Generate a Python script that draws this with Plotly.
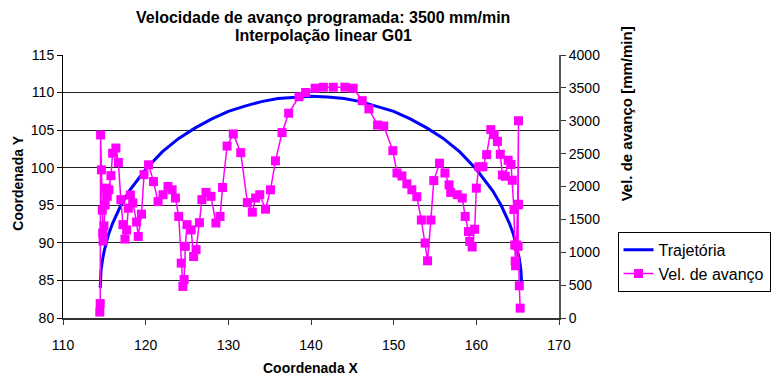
import plotly.graph_objects as go

# Trajectory (Coordenada X, Coordenada Y)
traj_x = [114.5, 114.6, 114.8, 115.0, 115.5, 116.0, 117.0, 118.0, 120.0, 122.0, 124.0,
          126.0, 128.0, 130.0, 132.0, 134.0, 136.0, 138.0, 140.0, 142.0, 144.0, 146.0,
          148.0, 150.0, 152.0, 154.0, 156.0, 158.0, 160.0, 162.0, 163.0, 164.0, 164.5,
          165.0, 165.2, 165.4, 165.5]
traj_y = [84.0, 86.3, 87.9, 89.0, 91.1, 92.6, 95.0, 96.9, 99.8, 102.1, 103.9,
          105.3, 106.5, 107.5, 108.2, 108.8, 109.2, 109.4, 109.5, 109.4, 109.2, 108.8,
          108.2, 107.5, 106.5, 105.3, 103.9, 102.1, 99.8, 96.9, 95.0, 92.6, 91.1,
          89.0, 87.9, 86.3, 84.0]

# Feed rate (Coordenada X, Vel. de avanço [mm/min])
vel_x = [114.45, 114.50, 114.55, 114.65, 114.75, 114.80, 114.85, 114.95, 115.10, 115.25,
         115.35, 115.55, 115.80, 116.00, 116.40, 116.70, 117.00, 117.25, 117.50, 117.70,
         117.90, 118.15, 118.45, 118.90, 119.10, 119.50, 119.80, 120.35, 120.95, 121.50,
         122.10, 122.70, 123.20, 123.60, 124.00, 124.30, 124.50, 124.65, 124.80, 125.00,
         125.50, 125.80, 126.10, 126.50, 126.80, 127.30, 127.90, 128.50, 129.00, 129.30,
         129.85, 130.60, 131.50, 132.30, 132.90, 133.30, 133.80, 134.50, 135.10, 135.70,
         136.50, 137.30, 138.55, 139.35, 140.50, 141.50, 142.70, 144.10, 145.10, 146.20,
         147.00, 148.05, 148.80, 149.90, 150.40, 151.00, 151.60, 152.20, 152.80, 153.35,
         153.80, 154.10, 154.50, 154.85, 155.55, 156.20, 156.70, 156.90, 157.70, 158.30,
         158.65, 159.05, 159.20, 159.50, 159.80, 160.00, 160.30, 160.80, 161.25, 161.75,
         162.15, 162.55, 162.90, 163.15, 163.50, 163.85, 164.20, 164.35, 164.55, 164.65,
         164.70, 164.75, 164.85, 165.00, 165.10, 165.10, 165.05, 165.20, 165.30]
vel_v = [90, 220, 2784, 2253, 1640, 1290, 1170, 1400, 1720, 1975,
         1850, 1950, 2165, 2506, 2585, 2365, 1800, 1420, 1200, 1340,
         1670, 1870, 1750, 1460, 1240, 1580, 2180, 2330, 2075, 1770,
         1875, 2000, 1950, 1825, 1545, 835, 480, 585, 1090, 1420,
         1340, 935, 1040, 1450, 1800, 1910, 1850, 1445, 1545, 1985,
         2615, 2800, 2515, 1755, 1610, 1825, 1875, 1655, 1950, 2390,
         2820, 3115, 3365, 3430, 3495, 3510, 3510, 3510, 3495, 3305,
         3180, 2935, 2920, 2545, 2205, 2160, 2040, 1950, 1845, 1490,
         1140, 870, 1490, 2090, 2355, 2205, 2025, 1910, 1875, 1825,
         1545, 1315, 1165, 1080, 1350, 1975, 2300, 2300, 2485, 2865,
         2790, 2685, 2490, 2175, 2155, 2400, 2335, 2095, 1650, 1110,
         865, 795, 1110, 1720, 3000, 1730, 1090, 490, 150]

x_ticks = [110, 120, 130, 140, 150, 160, 170]
y_ticks = [80, 85, 90, 95, 100, 105, 110, 115]
v_ticks = [0, 500, 1000, 1500, 2000, 2500, 3000, 3500, 4000]

title_line1 = "Velocidade de avanço programada: 3500 mm/min"
title_line2 = "Interpolação linear G01"

FONT = "Liberation Sans, Arial, sans-serif"

fig = go.Figure()
fig.add_trace(go.Scatter(
    x=traj_x, y=traj_y, mode="lines", name="Trajetória",
    line=dict(color="#0000FF", width=3),
))
fig.add_trace(go.Scatter(
    x=vel_x, y=vel_v, yaxis="y2", mode="lines+markers", name="Vel. de avanço",
    line=dict(color="#FF00FF", width=1.5),
    marker=dict(symbol="square", size=9, color="#FF00FF"),
))

fig.update_layout(
    width=783, height=377, autosize=False,
    margin=dict(l=63, r=215, t=55, b=59, pad=0),
    paper_bgcolor="white", plot_bgcolor="white",
    font=dict(family=FONT, color="black", size=14),
    showlegend=True,
    legend=dict(
        x=1.118, y=0.328, xanchor="left", yanchor="top",
        bordercolor="black", borderwidth=1, bgcolor="white",
        font=dict(family=FONT, size=16, color="black"),
        tracegroupgap=0,
    ),
    xaxis=dict(
        range=[110, 170], tickvals=x_ticks, showgrid=False, zeroline=False,
        showline=True, linecolor="#333", linewidth=2,
        ticks="outside", ticklen=5, tickcolor="#333",
        tickfont=dict(size=14), ticklabelstandoff=8,
    ),
    yaxis=dict(
        range=[80, 115], tickvals=y_ticks, showgrid=True, gridcolor="#222", gridwidth=1,
        zeroline=False, showline=True, linecolor="black", linewidth=1,
        ticks="outside", ticklen=5, tickcolor="black", tickfont=dict(size=14),
    ),
    yaxis2=dict(
        range=[0, 4000], tickvals=v_ticks, overlaying="y", side="right",
        showgrid=False, zeroline=False, showline=True, linecolor="#555", linewidth=2,
        ticks="outside", ticklen=5, tickcolor="#333", tickfont=dict(size=14),
    ),
    annotations=[
        dict(text="<b>" + title_line1 + "</b>", xref="paper", yref="paper",
             x=0.525, y=1.1424, xanchor="center", yanchor="middle", showarrow=False,
             font=dict(size=16)),
        dict(text="<b>" + title_line2 + "</b>", xref="paper", yref="paper",
             x=0.525, y=1.076, xanchor="center", yanchor="middle", showarrow=False,
             font=dict(size=16)),
        dict(text="<b>Coordenada X</b>", xref="paper", yref="paper",
             x=0.5, y=-0.189, xanchor="center", yanchor="middle", showarrow=False,
             font=dict(size=14)),
        dict(text="<b>Coordenada Y</b>", xref="paper", yref="paper", textangle=-90,
             x=-0.091, y=0.514, xanchor="center", yanchor="middle", showarrow=False,
             font=dict(size=14)),
        dict(text="<b>Vel. de avanço [mm/min]</b>", xref="paper", yref="paper", textangle=-90,
             x=1.136, y=0.776, xanchor="center", yanchor="middle", showarrow=False,
             font=dict(size=15)),
    ],
)

fig.write_html("out.html")
